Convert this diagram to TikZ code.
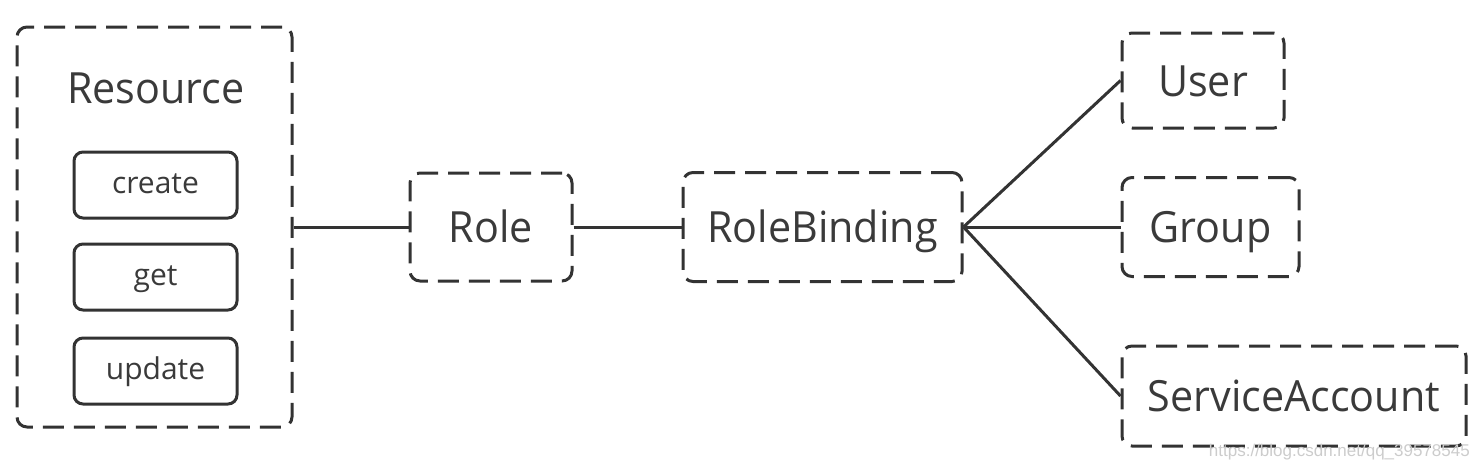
\documentclass[tikz,border=0pt]{standalone}
\usepackage{fontspec}
\setmainfont{Open Sans}
\newfontfamily\labelfont[FakeStretch=0.96]{Open Sans}
\newfontfamily\wmfont{Liberation Sans}
\definecolor{ink}{HTML}{333333}
\definecolor{txt}{HTML}{3A3A3A}
\begin{document}
\begin{tikzpicture}[x=1pt,y=-1pt,
  dbox/.style={draw=ink, line width=3pt, dash pattern=on 21pt off 10pt, rounded corners=10pt, inner sep=0pt, text=txt, font=\labelfont\fontsize{43}{50}\selectfont, text height=31pt, text depth=0pt},
  opbox/.style={draw=ink, line width=3pt, rounded corners=9pt, minimum width=163pt, minimum height=66pt, inner sep=0pt, text=txt, font=\fontsize{30}{36}\selectfont, text height=16pt, text depth=0pt},
  biglabel/.style={text=txt, font=\labelfont\fontsize{43}{50}\selectfont, inner sep=0pt},
  link/.style={draw=ink, line width=3pt}]
\path[use as bounding box] (0,0) rectangle (1479,467);
\node[dbox, minimum width=275pt, minimum height=400pt] (res) at (154.5,227) {};
\node[biglabel, anchor=base] (reslabel) at (156,103) {Resource};
\node[opbox] (create) at (155.5,185) {create};
\node[opbox] (get) at (155.5,277) {get};
\node[opbox] (update) at (155.5,371) {update};
\node[dbox, minimum width=162pt, minimum height=108pt] (role) at (491,227) {Role};
\node[dbox, minimum width=279pt, minimum height=109pt] (rb) at (822.5,227) {RoleBinding};
\node[dbox, minimum width=162pt, minimum height=95pt] (user) at (1203,80.5) {User};
\node[dbox, minimum width=177pt, minimum height=99pt] (group) at (1210.5,227) {Group};
\node[dbox, minimum width=344pt, minimum height=100pt] (sa) at (1294,396) {ServiceAccount};
\draw[link] (res.east) -- (role.west);
\draw[link] (role.east) -- (rb.west);
\draw[link] (rb.east) -- (user.west);
\draw[link] (rb.east) -- (group.west);
\draw[link] (rb.east) -- (sa.west);
\node[anchor=base east, text=gray!40, font=\wmfont\fontsize{17}{20}\selectfont, inner sep=0pt] (wm) at (1470,456) {https://blog.csdn.net/qq\_39578545};
\end{tikzpicture}
\end{document}
